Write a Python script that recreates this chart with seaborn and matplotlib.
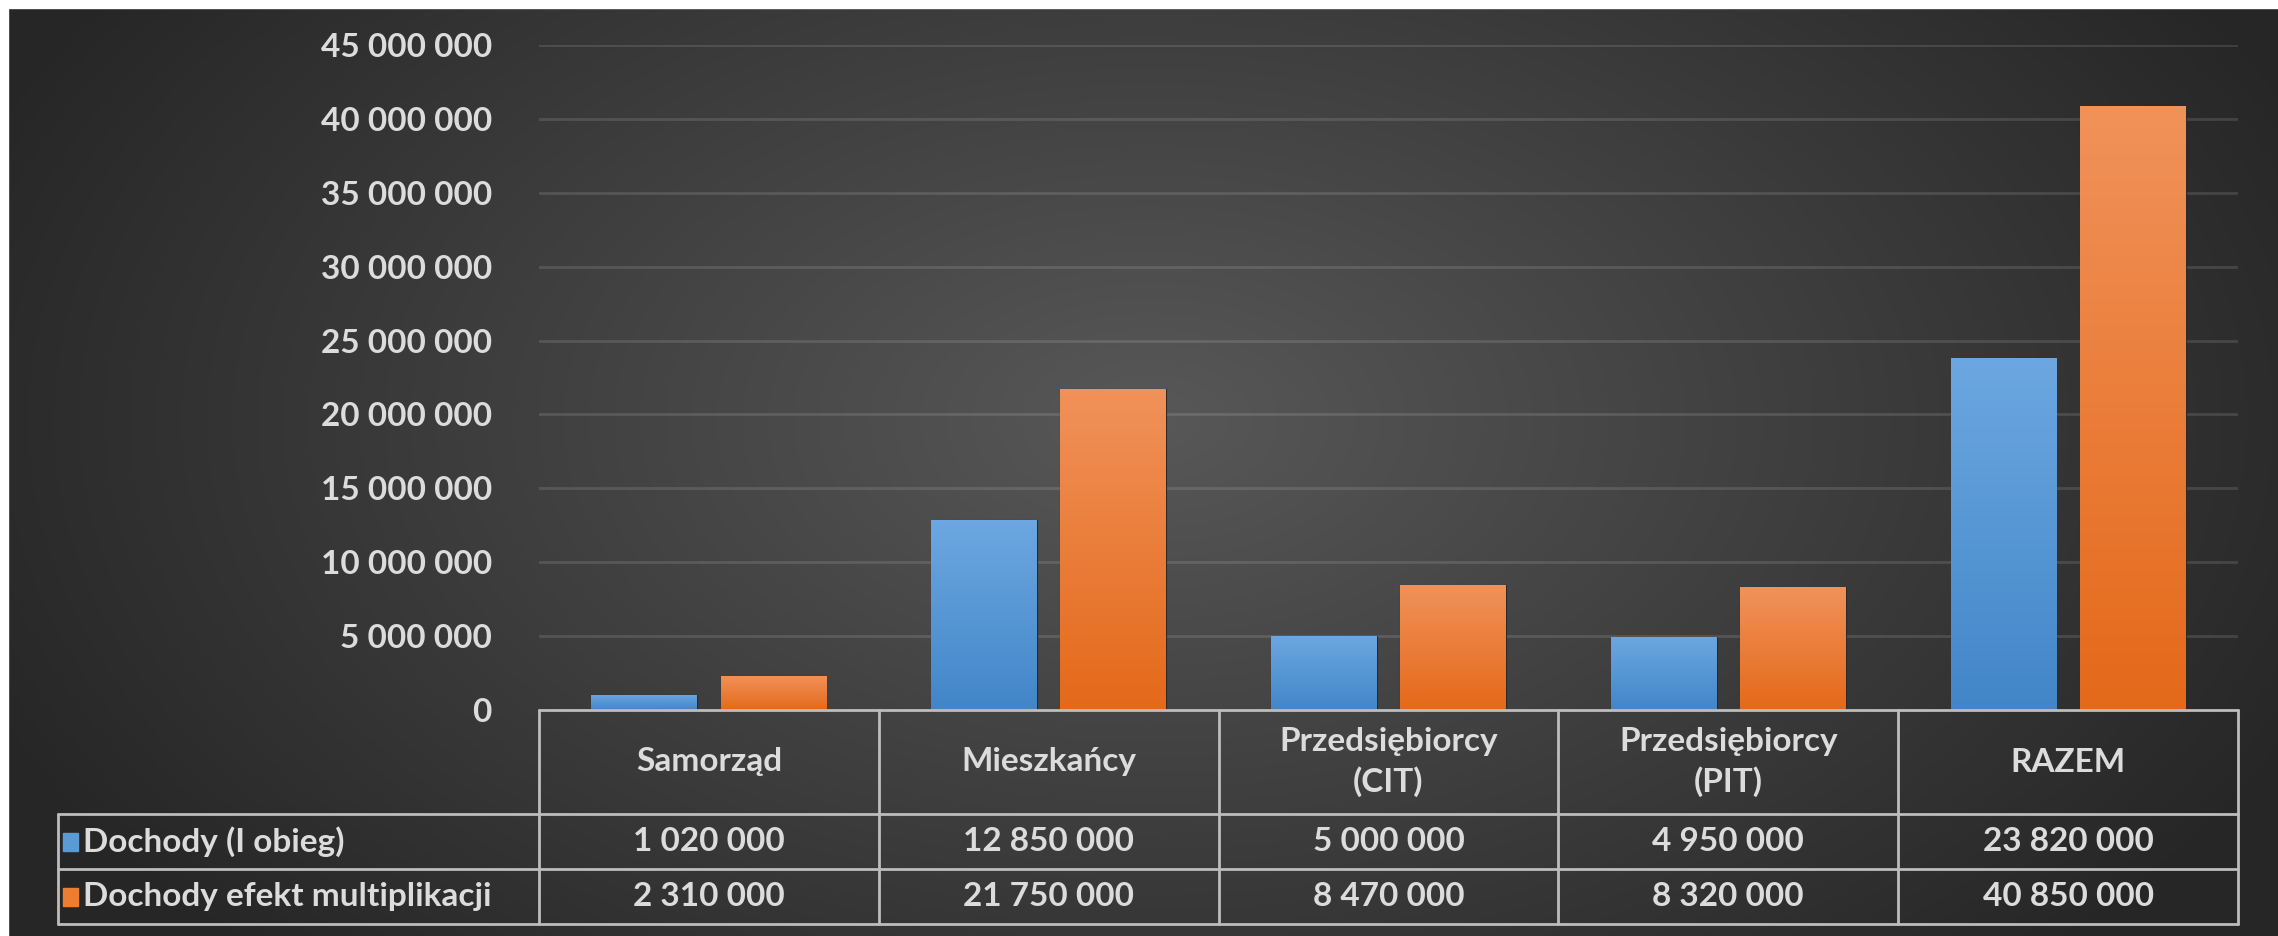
import numpy as np
import pandas as pd
import matplotlib
matplotlib.use('Agg')
import matplotlib.pyplot as plt
import matplotlib.transforms as mtransforms
from matplotlib.patches import Rectangle
import seaborn as sns

# dane
categories = ['Samorząd', 'Mieszkańcy', 'Przedsiębiorcy\n(CIT)', 'Przedsiębiorcy\n(PIT)', 'RAZEM']
series_names = ['Dochody (I obieg)', 'Dochody efekt multiplikacji']
dochody = [1020000, 12850000, 5000000, 4950000, 23820000]
multiplikacja = [2310000, 21750000, 8470000, 8320000, 40850000]
y_ticks = [0, 5000000, 10000000, 15000000, 20000000, 25000000, 30000000, 35000000, 40000000, 45000000]

def fmt(v):
    return f'{int(v):,}'.replace(',', ' ')

W, H = 2278, 936
TXT = '#dcdcdc'
LINE = '#bdbdbd'
FS = 24
blue_top, blue_bot = '#6ca7e1', '#4286c8'
orange_top, orange_bot = '#f1925a', '#e4691a'

sns.set_style('white')
plt.rcParams['font.family'] = ['Lato', 'DejaVu Sans']
plt.rcParams['font.weight'] = 'bold'

fig = plt.figure(figsize=(W / 100, H / 100), dpi=100)

# tlo - gradient radialny
bg = fig.add_axes([0, 0, 1, 1])
bg.axis('off')
yy, xx = np.mgrid[0:H, 0:W]
r = np.sqrt(((xx - 1150) / 1500.0) ** 2 + ((yy - 420) / 900.0) ** 2)
r = np.clip(r / 0.85, 0, 1)
c_in = np.array([0x58, 0x58, 0x58]) / 255
c_out = np.array([0x26, 0x26, 0x26]) / 255
img = c_in[None, None, :] * (1 - r[..., None]) + c_out[None, None, :] * r[..., None]
bg.imshow(img, extent=[0, 1, 0, 1], aspect='auto', origin='upper')
bg.set_xlim(0, 1)
bg.set_ylim(0, 1)
fig.patches.append(Rectangle((0, 1 - 8 / H), 1, 8 / H, transform=fig.transFigure, color='white', zorder=5))
fig.patches.append(Rectangle((0, 0), 8 / W, 1, transform=fig.transFigure, color='white', zorder=5))

x_left, x_right = 539, 2238
y_zero, y_top = 710, 45
ax = fig.add_axes([x_left / W, 1 - y_zero / H, (x_right - x_left) / W, (y_zero - y_top) / H])
ax.patch.set_alpha(0)

df = pd.DataFrame({
    'kategoria': categories * 2,
    'seria': [series_names[0]] * 5 + [series_names[1]] * 5,
    'wartosc': dochody + multiplikacja,
})
sns.barplot(data=df, x='kategoria', y='wartosc', hue='seria', order=categories,
            hue_order=series_names, palette=[blue_bot, orange_bot], width=0.76, gap=0.18,
            errorbar=None, legend=False, ax=ax, zorder=3, edgecolor='#2a2a2a', linewidth=0.8)

# gradient na slupkach
for p in list(ax.patches):
    x0, y0 = p.get_x(), p.get_y()
    w, h = p.get_width(), p.get_height()
    fc = p.get_facecolor()
    is_blue = fc[2] > fc[0]
    top = np.array(matplotlib.colors.to_rgb(blue_top if is_blue else orange_top))
    bot = np.array(matplotlib.colors.to_rgb(blue_bot if is_blue else orange_bot))
    t = np.linspace(0, 1, 200)[:, None]
    grad = (top * (1 - t) + bot * t)[:, None, :]
    im = ax.imshow(grad, extent=[x0, x0 + w, y0, y0 + h], aspect='auto', origin='upper', zorder=3.5)
    im.set_clip_path(p)

ax.set_xlim(-0.5, len(categories) - 0.5)
ax.set_ylim(0, 45000000)
ax.set_yticks(y_ticks)
ax.set_yticklabels([fmt(v) for v in y_ticks])
ax.set_xticks([])
ax.set_xlabel('')
ax.set_ylabel('')
ax.tick_params(axis='y', length=0, pad=34, labelsize=FS, labelcolor=TXT)
for lab in ax.get_yticklabels():
    lab.set_fontweight('bold')
ax.yaxis.grid(True, color='#ffffff', alpha=0.12, linewidth=2)
ax.set_axisbelow(True)
for s in ax.spines.values():
    s.set_visible(False)

# tabela danych
trans = mtransforms.blended_transform_factory(ax.transData, fig.transFigure)
fy = lambda py: 1 - py / H
fx = lambda px: px / W
rows_y = [710, 814, 869, 924]
ncol = len(categories)
lk = dict(color=LINE, linewidth=2, clip_on=False, zorder=6)

ax.plot([-0.5, ncol - 0.5], [fy(710)] * 2, transform=trans, **lk)
for py in rows_y[1:]:
    fig.add_artist(plt.Line2D([fx(58), fx(x_right)], [fy(py)] * 2, transform=fig.transFigure, **lk))
for i in range(ncol + 1):
    ax.plot([i - 0.5] * 2, [fy(710), fy(924)], transform=trans, **lk)
fig.add_artist(plt.Line2D([fx(58)] * 2, [fy(814), fy(924)], transform=fig.transFigure, **lk))

for i, c in enumerate(categories):
    ax.text(i, fy(762), c, transform=trans, ha='center', va='center', color=TXT,
            fontsize=FS, fontweight='bold', linespacing=1.4)
    ax.text(i, fy(841.5), fmt(dochody[i]), transform=trans, ha='center', va='center',
            color=TXT, fontsize=FS, fontweight='bold')
    ax.text(i, fy(896.5), fmt(multiplikacja[i]), transform=trans, ha='center', va='center',
            color=TXT, fontsize=FS, fontweight='bold')

for py, name, col in [(841.5, series_names[0], '#5b9bd5'), (896.5, series_names[1], '#ed7d31')]:
    fig.patches.append(Rectangle((fx(63), fy(py + 9)), 15 / W, 18 / H, transform=fig.transFigure,
                                 color=col, zorder=6))
    fig.text(fx(83), fy(py), name, ha='left', va='center', color=TXT, fontsize=FS, fontweight='bold')

fig.savefig('out.png', dpi=100)
